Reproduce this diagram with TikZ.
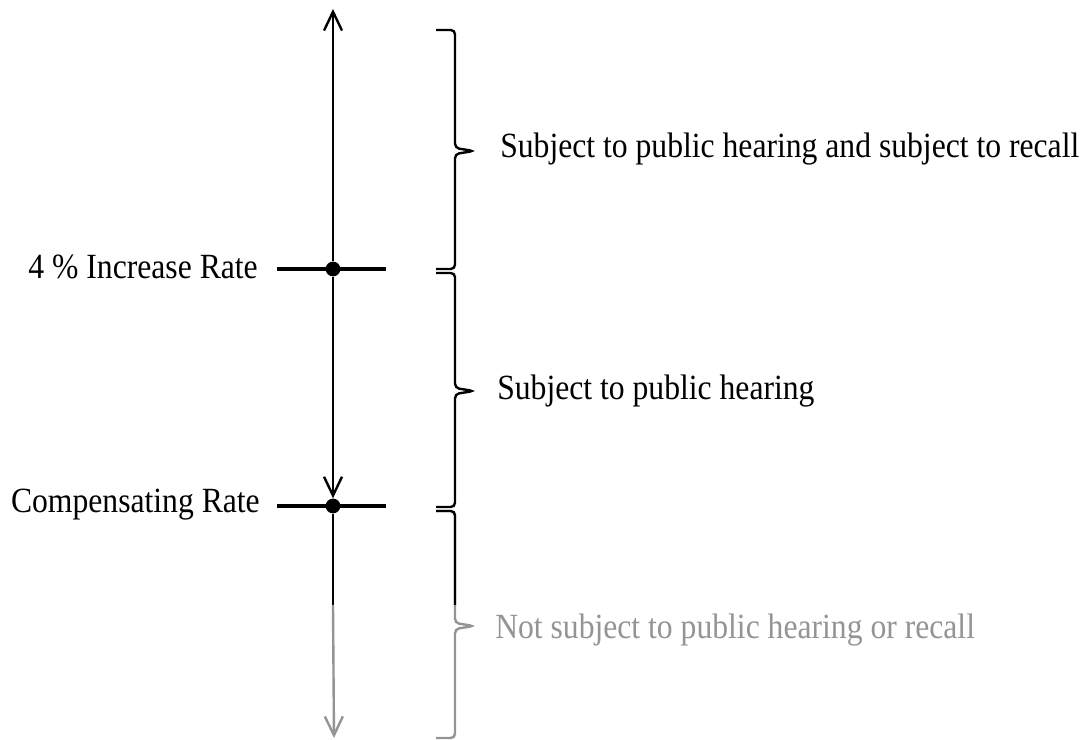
\documentclass[tikz,border=0pt]{standalone}
\usepackage{fontspec}
\setmainfont{Liberation Serif}
\usetikzlibrary{arrows.meta}
\definecolor{fadegray}{gray}{0.58}
\def\sidebrace[#1](#2:#3:#4){\draw[#1] (436,#2) -- (455,#2) -- (455,#3-3) -- (474,#3) -- (455,#3+3) -- (455,#4) -- (436,#4);}
\def\tall#1{\scalebox{1}[1.12]{#1}}

\begin{document}
\begin{tikzpicture}[x=0.025cm,y=-0.025cm,
	axis/.style={line width=1.7pt},
	barb/.style={line width=1.7pt,-{Straight Barb[length=4.7mm,width=4.5mm]}},
	tick/.style={line width=2.8pt},
	bracket/.style={line width=1.7pt,rounded corners=3pt},
	dot/.style={circle,fill=black,inner sep=0pt,minimum size=0.37cm},
	lbl/.style={font=\fontsize{22.5}{27}\selectfont,inner sep=0pt}]
	%%%%% START %%%%%
	\useasboundingbox (0,0) rectangle (1088,740);
	
	\coordinate (top) at (333,9);
	\node[dot] (incr) at (333,269) {};
	\node[dot] (comp) at (333,506) {};
	\coordinate (fade) at (333,605);
	\coordinate (bot) at (334,738);
	
	\draw[tick] (incr.center) ++(-56,0) -- ++(109,0);
	\draw[tick] (comp.center) ++(-56,0) -- ++(109,0);
	
	\draw[barb,{Straight Barb[length=4.7mm,width=4.5mm]}-] (top) -- (incr);
	\draw[barb] (incr) -- (comp);
	\draw[axis] (comp) -- (fade);
	\draw[barb,fadegray] (fade) -- (bot);
	
	\sidebrace[bracket](30:151:269)
	\sidebrace[bracket](273:391:507)
	\sidebrace[bracket,fadegray](511:626:738)
	\draw[bracket] (436,511) -- (455,511) -- (455,605);
	
	\node[lbl,anchor=base east] (incrlab) at (258,279) {\tall{4 \% Increase Rate}};
	\node[lbl,anchor=base east] (complab) at (260,513) {\tall{Compensating Rate}};
	\node[lbl,anchor=base west] (recall) at (500,158) {\tall{Subject to public hearing and subject to recall}};
	\node[lbl,anchor=base west] (hearing) at (497,400) {\tall{Subject to public hearing}};
	\node[lbl,anchor=base west,text=fadegray] (nothing) at (495,639) {\tall{Not subject to public hearing or recall}};
	%%%%% END %%%%%
\end{tikzpicture}
\end{document}
